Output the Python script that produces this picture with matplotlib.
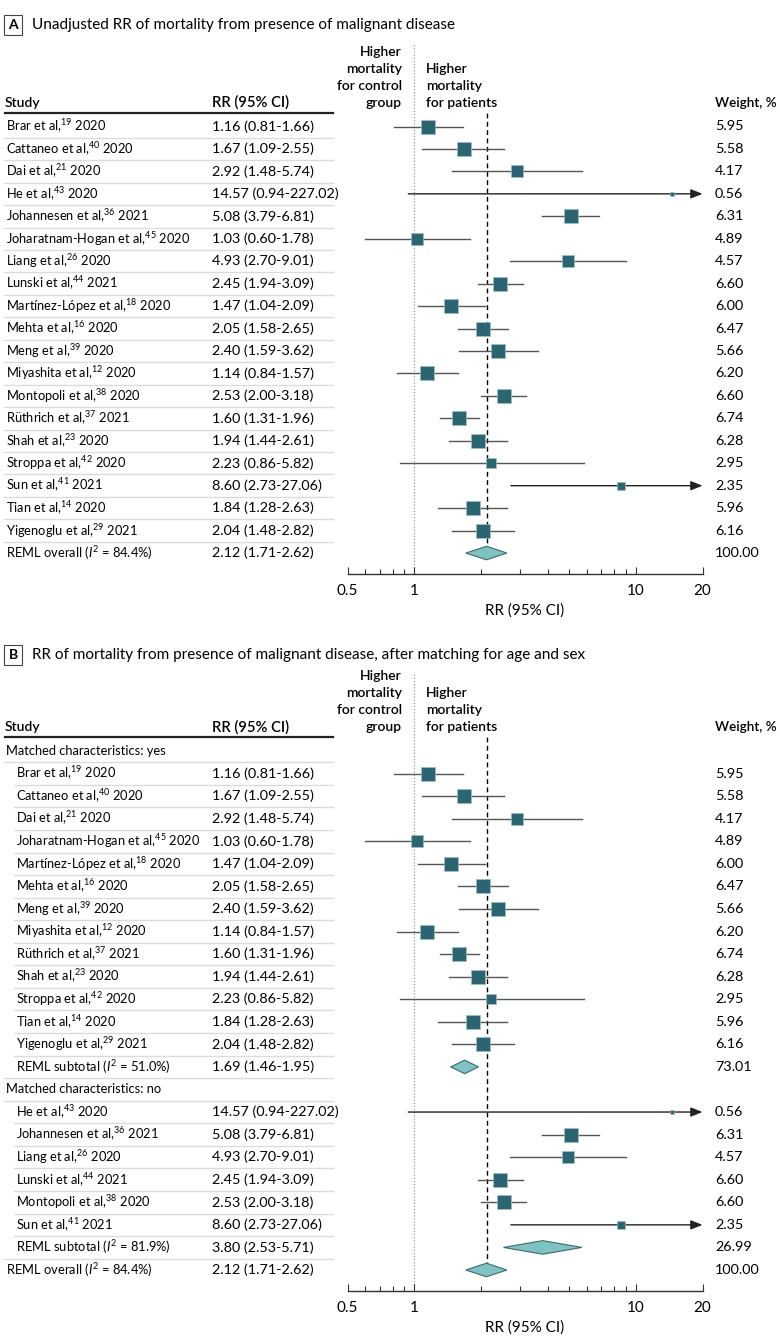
import matplotlib
matplotlib.use("Agg")
import matplotlib.pyplot as plt
from matplotlib import transforms
from matplotlib.patches import Polygon

# study level data, same order as panel A
authors = ["Brar", "Cattaneo", "Dai", "He", "Johannesen", "Joharatnam-Hogan", "Liang", "Lunski",
           "Martínez-López", "Mehta", "Meng", "Miyashita", "Montopoli", "Rüthrich", "Shah",
           "Stroppa", "Sun", "Tian", "Yigenoglu"]
refs = [19, 40, 21, 43, 36, 45, 26, 44, 18, 16, 39, 12, 38, 37, 23, 42, 41, 14, 29]
years = [2020, 2020, 2020, 2020, 2021, 2020, 2020, 2021, 2020, 2020,
         2020, 2020, 2020, 2021, 2020, 2020, 2021, 2020, 2021]
rr = [1.16, 1.67, 2.92, 14.57, 5.08, 1.03, 4.93, 2.45, 1.47, 2.05,
      2.40, 1.14, 2.53, 1.60, 1.94, 2.23, 8.60, 1.84, 2.04]
ci_low = [0.81, 1.09, 1.48, 0.94, 3.79, 0.60, 2.70, 1.94, 1.04, 1.58,
          1.59, 0.84, 2.00, 1.31, 1.44, 0.86, 2.73, 1.28, 1.48]
ci_high = [1.66, 2.55, 5.74, 227.02, 6.81, 1.78, 9.01, 3.09, 2.09, 2.65,
           3.62, 1.57, 3.18, 1.96, 2.61, 5.82, 27.06, 2.63, 2.82]
weight = [5.95, 5.58, 4.17, 0.56, 6.31, 4.89, 4.57, 6.60, 6.00, 6.47,
          5.66, 6.20, 6.60, 6.74, 6.28, 2.95, 2.35, 5.96, 6.16]
matched = [True, True, True, False, False, True, False, False, True, True,
           True, True, False, True, True, True, False, True, True]

# pooled estimates: rr, low, high, weight, I2
overall = [2.12, 1.71, 2.62, 100.00, 84.4]
subtotal_yes = [1.69, 1.46, 1.95, 73.01, 51.0]
subtotal_no = [3.80, 2.53, 5.71, 26.99, 81.9]

xticks = [0.5, 1, 10, 20]
xticklabels = ["0.5", "1", "10", "20"]

plt.rcParams['font.family'] = ['Lato', 'DejaVu Sans']
plt.rcParams['mathtext.fontset'] = 'custom'
plt.rcParams['mathtext.rm'] = 'Lato'
plt.rcParams['mathtext.it'] = 'Lato:italic'
plt.rcParams['mathtext.default'] = 'regular'

FS_LABEL = 9.3   # study names
FS_NUM = 10.4    # RR and weight columns
FS_HEAD = 10     # column headers
FS_TITLE = 11
FS_AXIS = 11
W, H = 780, 1342
TEAL = '#2c6572'
DIAMOND = '#7ec3c2'

fig = plt.figure(figsize=(7.8, 13.42), dpi=100)


def fx(px):
    return px / W


def study_row(i, indent):
    return ('study', f"{authors[i]} et al,$^{{{refs[i]}}}$ {years[i]}",
            rr[i], ci_low[i], ci_high[i], weight[i], indent)


def summary_row(name, vals, indent):
    return ('summary', f"{name} ($\\mathit{{I}}^{{2}}$ = {vals[4]:.1f}%)",
            vals[0], vals[1], vals[2], vals[3], indent)


def draw_panel(rows, letter, title, title_py, ax_top, row0, step):
    n = len(rows)
    bottom_row = n - 1 + 0.93
    ax_bottom = row0 + bottom_row * step
    top_row = (ax_top - row0) / step
    ax = fig.add_axes([347.5 / W, 1 - ax_bottom / H, 355 / W, (ax_bottom - ax_top) / H])
    ax.set_xscale('log')
    ax.autoscale(False)
    ax.set_xlim(0.5, 20)
    ax.set_ylim(bottom_row, top_row)
    trans = transforms.blended_transform_factory(fig.transFigure, ax.transData)

    # panel title
    fig.text(fx(13), 1 - title_py / H, letter, ha='center', va='center', fontsize=FS_HEAD,
             weight='bold', bbox=dict(boxstyle='square,pad=0.3', fc='white', ec='#444', lw=0.8))
    fig.text(fx(32), 1 - title_py / H, title, ha='left', va='center', fontsize=FS_TITLE)

    # column headers
    hy = -1.05
    ax.text(fx(5), hy, "Study", transform=trans, ha='left', va='center', fontsize=FS_HEAD, weight='semibold')
    ax.text(fx(212), hy, "RR (95% CI)", transform=trans, ha='left', va='center', fontsize=FS_HEAD + 0.6,
            weight='semibold')
    ax.text(fx(715), hy, "Weight, %", transform=trans, ha='left', va='center', fontsize=FS_HEAD - 0.3,
            weight='semibold')
    left_lines = ["group", "for control", "mortality", "Higher"]
    right_lines = ["for patients", "mortality", "Higher"]
    for k, s in enumerate(left_lines):
        ax.text(fx(402), hy - k * 17 / step, s, transform=trans, ha='right', va='center',
                fontsize=FS_HEAD, weight='semibold')
    for k, s in enumerate(right_lines):
        ax.text(fx(426), hy - k * 17 / step, s, transform=trans, ha='left', va='center',
                fontsize=FS_HEAD, weight='semibold')
    ax.plot([fx(5), fx(333)], [-0.6, -0.6], transform=trans, clip_on=False, color='#222', lw=1.6)

    # reference lines
    ax.axvline(1, color='#9a9a9a', ls=(0, (1, 1.5)), lw=0.9, zorder=1)
    ax.plot([overall[0], overall[0]], [-0.6, n - 1 - 0.3], color='black', ls=(0, (3.5, 2.5)),
            lw=1, zorder=1)

    for i, (kind, label, est, lo, hi, w, indent) in enumerate(rows):
        ax.text(fx(indent), i, label, transform=trans, ha='left', va='center', fontsize=FS_LABEL)
        if i < n - 1:
            x0 = min(indent, rows[i + 1][6]) - 2
            ax.plot([fx(x0), fx(333)], [i + 0.5, i + 0.5], transform=trans, clip_on=False,
                    color='#dcdcd6', lw=1)
        if kind == 'header':
            continue
        ax.text(fx(212), i, f"{est:.2f} ({lo:.2f}-{hi:.2f})", transform=trans,
                ha='left', va='center', fontsize=FS_NUM)
        ax.text(fx(715), i, f"{w:.2f}", transform=trans, ha='left', va='center', fontsize=FS_NUM)
        if kind == 'study':
            if hi > 20:
                ax.annotate('', xy=(20, i), xytext=(lo, i),
                            arrowprops=dict(arrowstyle='-|>,head_length=0.7,head_width=0.28',
                                            color='#222', lw=1, shrinkA=0, shrinkB=0,
                                            mutation_scale=10), zorder=2)
            else:
                ax.plot([lo, hi], [i, i], color='#555', lw=1, zorder=2)
            side = 5.74 * w ** 0.5 * 0.72
            ax.plot(est, i, 's', ms=side, mfc=TEAL, mec='#9dc0c4', mew=0.5, zorder=3)
        else:
            ax.add_patch(Polygon([(lo, i), (est, i - 0.3), (hi, i), (est, i + 0.3)],
                                 closed=True, fc=DIAMOND, ec='#3d6a6e', lw=0.8, zorder=3))

    # axis
    for side_name in ['top', 'right', 'left']:
        ax.spines[side_name].set_visible(False)
    ax.spines['bottom'].set_color('#333')
    ax.spines['bottom'].set_linewidth(1)
    ax.set_yticks([])
    ax.set_xticks(xticks)
    ax.set_xticklabels(xticklabels, fontsize=FS_AXIS)
    ax.set_xticks([0.6, 0.7, 0.8, 0.9, 2, 3, 4, 5, 6, 7, 8, 9], minor=True)
    ax.tick_params(axis='x', which='major', direction='in', length=5, width=0.8,
                   color='#333', pad=7)
    ax.tick_params(axis='x', which='minor', direction='in', length=3.5, width=0.8,
                   color='#333', labelbottom=False)
    ax.set_xlabel("RR (95% CI)", fontsize=FS_AXIS, labelpad=4)
    ax.patch.set_alpha(0)
    return ax


# panel A rows
rows_a = [study_row(i, 6) for i in range(len(authors))]
rows_a.append(summary_row("REML overall", overall, 6))

# panel B rows
rows_b = [('header', "Matched characteristics: yes", 0, 0, 0, 0, 6)]
rows_b += [study_row(i, 16) for i in range(len(authors)) if matched[i]]
rows_b.append(summary_row("REML subtotal", subtotal_yes, 16))
rows_b.append(('header', "Matched characteristics: no", 0, 0, 0, 0, 6))
rows_b += [study_row(i, 16) for i in range(len(authors)) if not matched[i]]
rows_b.append(summary_row("REML subtotal", subtotal_no, 16))
rows_b.append(summary_row("REML overall", overall, 6))

draw_panel(rows_a, "A", "Unadjusted RR of mortality from presence of malignant disease",
           25, 44, 126.5, 22.45)
draw_panel(rows_b, "B", "RR of mortality from presence of malignant disease, after matching for age and sex",
           655, 674, 751, 22.565)

fig.savefig("out.png", dpi=100, facecolor='white')
